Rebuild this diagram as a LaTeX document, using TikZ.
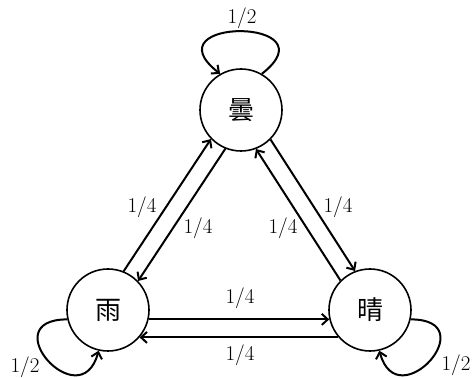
\documentclass[tikz,border=0pt]{standalone}
\usepackage{fontspec}
\newfontfamily\cjk{Noto Sans CJK SC}
\usetikzlibrary{arrows.meta}
\begin{document}
\begin{tikzpicture}[x=1pt,y=1pt,
  state/.style={circle, draw, line width=1.6pt, minimum size=82pt, inner sep=0pt, font=\cjk\fontsize{26}{30}\selectfont},
  edge/.style={line width=2pt, -{Straight Barb[length=6pt,width=11pt]}},
  lbl/.style={font=\fontsize{21}{25}\selectfont, inner sep=0pt}]
\useasboundingbox (0,0) rectangle (472,378);
\node[state] (q) at (241,268) {曇};
\node[state] (y) at (108,68) {雨};
\node[state] (s) at (370,68) {晴};
% horizontal pair
\draw[edge] (y.347) -- (s.193);
\draw[edge] (s.221) -- (y.319);
% left pair
\draw[edge] (y.68) -- (q.224);
\draw[edge] (q.248) -- (y.44);
% right pair
\draw[edge] (s.135) -- (q.291);
\draw[edge] (q.315) -- (s.111);
% self loops
\draw[edge] (q.60) .. controls +(38:92pt) and +(142:92pt) .. (q.120);
\draw[edge] (y.193) .. controls +(180:75pt) and +(255:70pt) .. (y.257);
\draw[edge] (s.347) .. controls +(0:75pt) and +(285:70pt) .. (s.283);
% labels
\node[lbl] (l1) at (242,360) {1/2};
\node[lbl] (l2) at (25,11) {1/2};
\node[lbl] (l3) at (456,13) {1/2};
\node[lbl] (l4) at (142,171) {1/4};
\node[lbl] (l5) at (198,150) {1/4};
\node[lbl] (l6) at (283,150) {1/4};
\node[lbl] (l7) at (338,171) {1/4};
\node[lbl] (l8) at (240,80) {1/4};
\node[lbl] (l9) at (240,23) {1/4};
\end{tikzpicture}
\end{document}
